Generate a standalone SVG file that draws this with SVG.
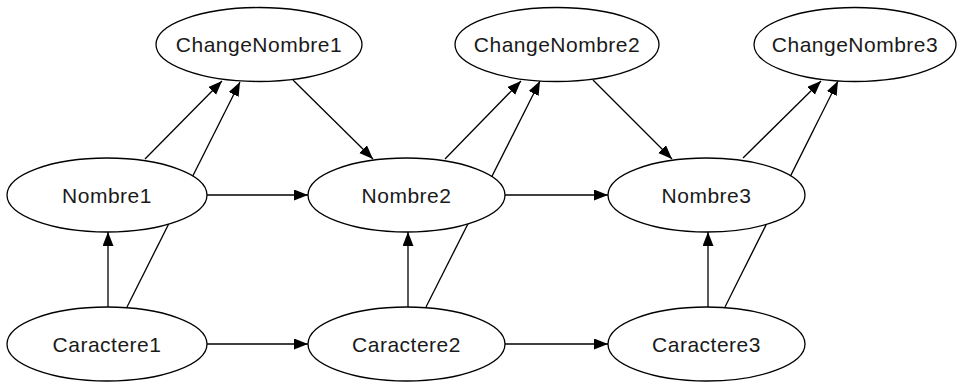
<svg xmlns="http://www.w3.org/2000/svg" width="957" height="382" viewBox="0 0 957 382">
  <style>
    .node ellipse { fill: #ffffff; stroke: #000000; stroke-width: 1.3; }
    .node text { font-family: "Liberation Sans", Arial, sans-serif; font-size: 21px; letter-spacing: 0.5px; fill: #1a1a1a; text-anchor: middle; dominant-baseline: central; }
    .edge { stroke: #000000; stroke-width: 1.3; fill: none; marker-end: url(#arrow); }
  </style>
  <defs>
    <marker id="arrow" markerUnits="userSpaceOnUse" markerWidth="15" markerHeight="12" refX="14" refY="5.5" orient="auto">
      <path d="M0,0 L14,5.5 L0,11 Z" fill="#000000"/>
    </marker>
  </defs>
  <rect width="957" height="382" fill="#ffffff"/>

  <!-- edges are drawn first so node fills hide the parts that pass behind nodes -->
  <g id="connectors">
    <line class="edge" x1="145" y1="159" x2="222" y2="81"/>
    <line class="edge" x1="127" y1="307" x2="240" y2="82"/>
    <line class="edge" x1="293" y1="80" x2="373" y2="159"/>
    <line class="edge" x1="207" y1="195" x2="308" y2="195"/>
    <line class="edge" x1="108" y1="307" x2="108" y2="232"/>
    <line class="edge" x1="207" y1="344" x2="308" y2="344"/>

    <line class="edge" x1="445" y1="159" x2="521" y2="81"/>
    <line class="edge" x1="426" y1="307" x2="540" y2="81"/>
    <line class="edge" x1="408" y1="307" x2="408" y2="232"/>
    <line class="edge" x1="593" y1="80" x2="672" y2="159"/>
    <line class="edge" x1="505" y1="195" x2="608" y2="195"/>
    <line class="edge" x1="505" y1="344" x2="608" y2="344"/>

    <line class="edge" x1="743" y1="158" x2="821" y2="81"/>
    <line class="edge" x1="725" y1="307" x2="838" y2="81"/>
    <line class="edge" x1="708" y1="307" x2="708" y2="232"/>
  </g>

  <g id="ChangeNombre1" class="node">
    <ellipse cx="259" cy="44.5" rx="103" ry="37"/>
    <text x="259" y="44.5">ChangeNombre1</text>
  </g>
  <g id="ChangeNombre2" class="node">
    <ellipse cx="557" cy="44.5" rx="102" ry="37"/>
    <text x="557" y="44.5">ChangeNombre2</text>
  </g>
  <g id="ChangeNombre3" class="node">
    <ellipse cx="855" cy="44.5" rx="101" ry="37"/>
    <text x="855" y="44.5">ChangeNombre3</text>
  </g>

  <g id="Nombre1" class="node">
    <ellipse cx="107" cy="195" rx="100" ry="37"/>
    <text x="107" y="195">Nombre1</text>
  </g>
  <g id="Nombre2" class="node">
    <ellipse cx="406.5" cy="195" rx="98.5" ry="37"/>
    <text x="406.5" y="195">Nombre2</text>
  </g>
  <g id="Nombre3" class="node">
    <ellipse cx="706.5" cy="195" rx="98.5" ry="37"/>
    <text x="706.5" y="195">Nombre3</text>
  </g>

  <g id="Caractere1" class="node">
    <ellipse cx="107" cy="344" rx="100" ry="37"/>
    <text x="107" y="344">Caractere1</text>
  </g>
  <g id="Caractere2" class="node">
    <ellipse cx="406.5" cy="344" rx="98.5" ry="37"/>
    <text x="406.5" y="344">Caractere2</text>
  </g>
  <g id="Caractere3" class="node">
    <ellipse cx="706.5" cy="344" rx="98.5" ry="37"/>
    <text x="706.5" y="344">Caractere3</text>
  </g>
</svg>
